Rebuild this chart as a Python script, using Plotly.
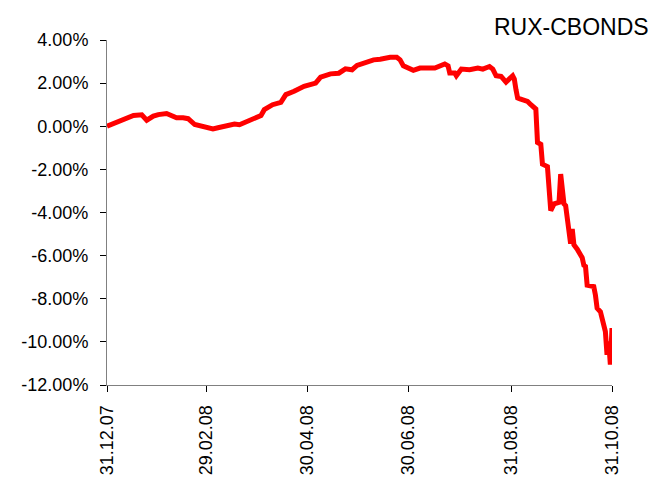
import plotly.graph_objects as go

dates = [
    "2007-12-31", "2008-01-08", "2008-01-16", "2008-01-21", "2008-01-22", "2008-01-24",
    "2008-01-28", "2008-01-31", "2008-02-05", "2008-02-08", "2008-02-11", "2008-02-15",
    "2008-02-18", "2008-02-22", "2008-02-25", "2008-02-29", "2008-03-04", "2008-03-07",
    "2008-03-13", "2008-03-17", "2008-03-20", "2008-03-24", "2008-03-28", "2008-03-31",
    "2008-04-02", "2008-04-04", "2008-04-09", "2008-04-14", "2008-04-17", "2008-04-22",
    "2008-04-28", "2008-05-05", "2008-05-08", "2008-05-14", "2008-05-19", "2008-05-23",
    "2008-05-27", "2008-05-30", "2008-06-04", "2008-06-09", "2008-06-13", "2008-06-19",
    "2008-06-23", "2008-06-25", "2008-06-27", "2008-07-03", "2008-07-07", "2008-07-14",
    "2008-07-16", "2008-07-22", "2008-07-24", "2008-07-25", "2008-07-28", "2008-07-29",
    "2008-08-01", "2008-08-06", "2008-08-11", "2008-08-14", "2008-08-18", "2008-08-20",
    "2008-08-22", "2008-08-25", "2008-08-28", "2008-09-01", "2008-09-02", "2008-09-03",
    "2008-09-04", "2008-09-05", "2008-09-08", "2008-09-10", "2008-09-12", "2008-09-15",
    "2008-09-16", "2008-09-18", "2008-09-19", "2008-09-22", "2008-09-24", "2008-09-26",
    "2008-09-29", "2008-09-30", "2008-10-01", "2008-10-02", "2008-10-03", "2008-10-06",
    "2008-10-07", "2008-10-08", "2008-10-10", "2008-10-13", "2008-10-14", "2008-10-15",
    "2008-10-16", "2008-10-20", "2008-10-21", "2008-10-22", "2008-10-24", "2008-10-27",
    "2008-10-28", "2008-10-29", "2008-10-30", "2008-10-31",
]
rux_cbonds = [
    0.00, 0.24, 0.50, 0.53, 0.44, 0.28,
    0.47, 0.54, 0.59, 0.50, 0.39, 0.39,
    0.35, 0.08, 0.04, -0.02, -0.12, -0.07,
    0.00, 0.10, 0.07, 0.19, 0.35, 0.44,
    0.50, 0.77, 1.00, 1.11, 1.47, 1.62,
    1.85, 2.00, 2.28, 2.43, 2.46, 2.66,
    2.62, 2.82, 2.97, 3.08, 3.11, 3.20,
    3.20, 3.08, 2.80, 2.59, 2.70, 2.74,
    2.70, 2.89, 2.80, 2.47, 2.47, 2.34,
    2.65, 2.62, 2.70, 2.65, 2.77, 2.65,
    2.34, 2.31, 2.05, 2.34, 2.19, 1.70,
    1.31, 1.28, 1.23, 1.15, 1.00, 0.80,
    -0.75, -0.84, -1.76, -1.87, -3.91, -3.60,
    -3.53, -2.22, -2.91, -3.60, -3.68, -5.45,
    -4.76, -5.50, -5.70, -6.10, -6.45, -6.50,
    -7.37, -7.44, -7.83, -8.44, -8.60, -9.52,
    -10.60, -9.98, -11.05, -9.36,
]

x_tick_dates = ["2007-12-31", "2008-02-29", "2008-04-30", "2008-06-30", "2008-08-31", "2008-10-31"]
x_tick_labels = ["31.12.07", "29.02.08", "30.04.08", "30.06.08", "31.08.08", "31.10.08"]
y_tick_values = [-12, -10, -8, -6, -4, -2, 0, 2, 4]
y_tick_labels = [f"{v:.2f}%" for v in y_tick_values]
series_name = "RUX-CBONDS"

fig = go.Figure()
fig.add_trace(go.Scatter(
    x=dates, y=rux_cbonds, mode="lines", name=series_name,
    line=dict(color="#FF0000", width=5),
))

axis_font = dict(family="Liberation Sans, Arial, sans-serif", size=18, color="#000000")

fig.update_layout(
    width=655, height=487,
    margin=dict(l=107, r=43, t=40, b=100),
    paper_bgcolor="white", plot_bgcolor="white",
    showlegend=False,
    font=axis_font,
    xaxis=dict(
        type="date",
        range=[x_tick_dates[0], x_tick_dates[-1]],
        tickmode="array", tickvals=x_tick_dates, ticktext=x_tick_labels,
        tickangle=-90, ticks="outside", ticklen=6, tickcolor="#000000",
        ticklabelstandoff=6,
        showline=True, linecolor="#808080", linewidth=1,
        showgrid=False, zeroline=False, tickfont=axis_font,
    ),
    yaxis=dict(
        range=[-12, 4],
        tickmode="array", tickvals=y_tick_values, ticktext=y_tick_labels,
        ticks="outside", ticklen=6, tickcolor="#000000",
        ticklabelstandoff=8,
        showline=True, linecolor="#808080", linewidth=1,
        showgrid=False, zeroline=False, tickfont=axis_font,
    ),
    annotations=[dict(
        text=series_name, xref="paper", yref="paper",
        x=1.077, y=1.0, xanchor="right", yanchor="bottom", yshift=-2,
        showarrow=False,
        font=dict(family="Liberation Sans, Arial, sans-serif", size=23, color="#000000"),
    )],
)

fig.write_html(
    "out.html",
    config={"displayModeBar": False},
    post_script="document.body.style.margin='0';",
)
